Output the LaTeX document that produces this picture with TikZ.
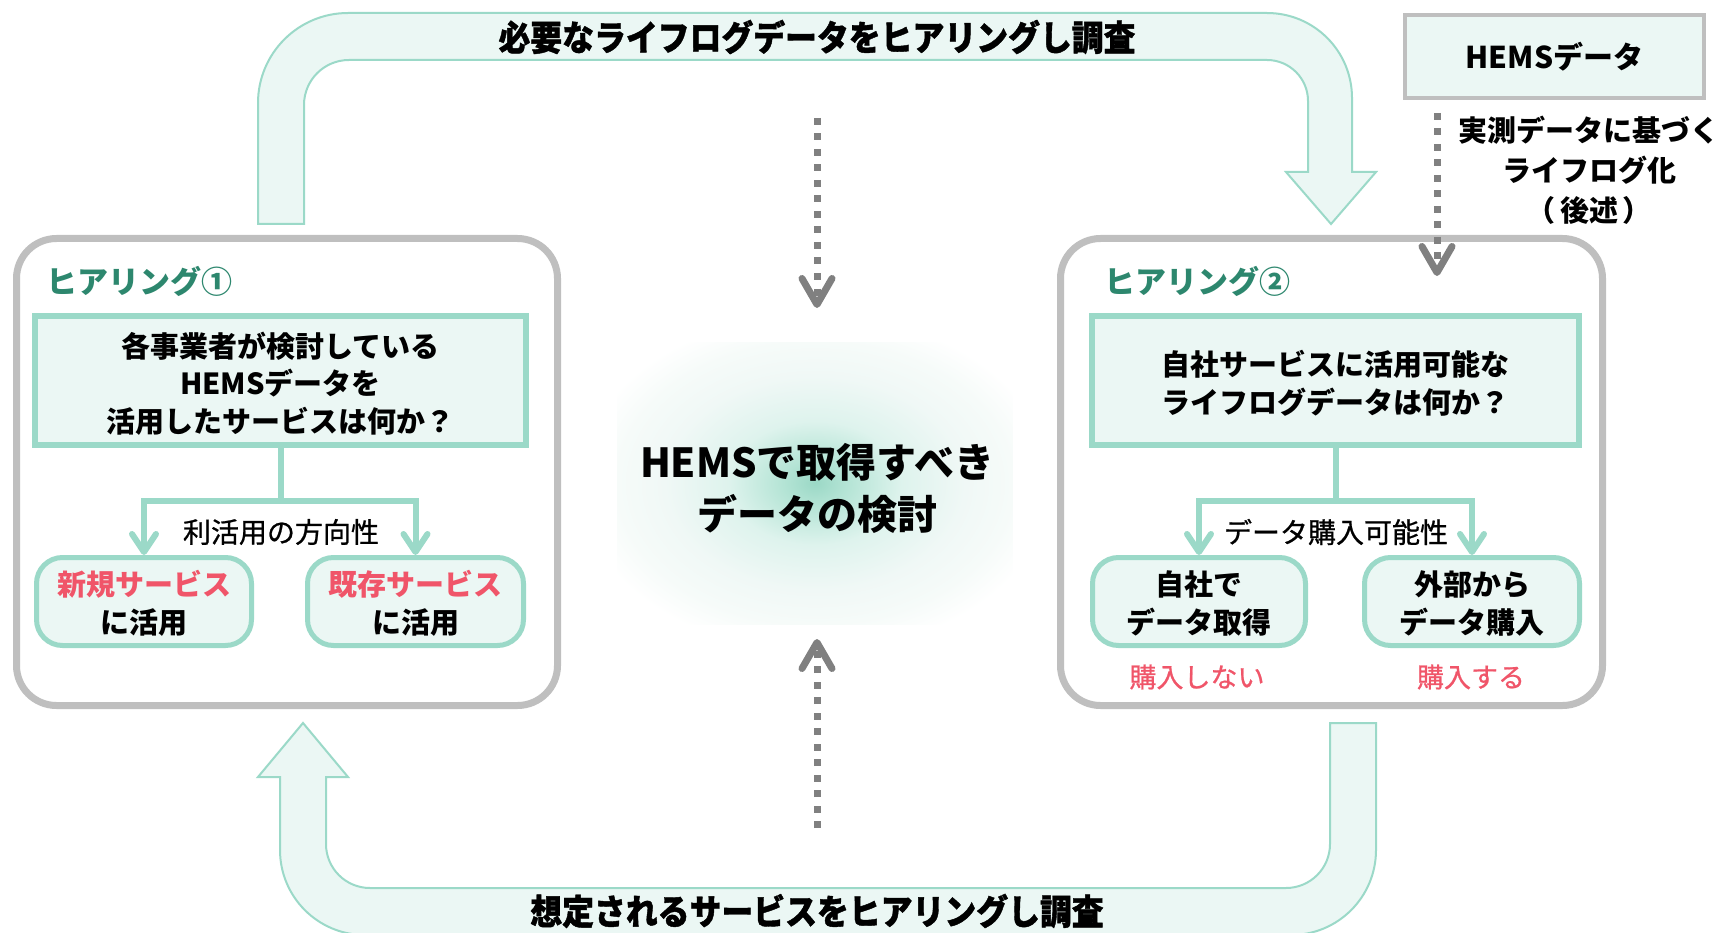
\documentclass[tikz,border=0pt]{standalone}
\usepackage{fontspec}
\setmainfont{Noto Sans CJK JP}
\newfontfamily\jpmed{Noto Sans CJK JP}[FakeBold=0.8]
\newfontfamily\jpheavy{Noto Sans CJK JP}[BoldFeatures={FakeBold=1.2}]
\usetikzlibrary{arrows.meta}
\definecolor{mint}{RGB}{155,217,200}
\definecolor{mintfill}{RGB}{235,247,244}
\definecolor{titleteal}{RGB}{45,135,110}
\definecolor{pinkred}{RGB}{240,85,105}
\definecolor{boxgray}{RGB}{191,191,191}
\definecolor{dgray}{RGB}{128,128,128}
\definecolor{glowA}{RGB}{155,216,198}
\definecolor{glowB}{RGB}{180,228,213}
\definecolor{glowC}{RGB}{222,243,237}
\definecolor{glowD}{RGB}{240,248,246}
\definecolor{glowE}{RGB}{246,251,249}
\pgfdeclareradialshading{glow}{\pgfpoint{0bp}{0bp}}{color(0bp)=(glowA); color(4bp)=(glowB); color(11bp)=(glowC); color(19bp)=(glowD); color(25bp)=(glowE); color(30bp)=(white); color(50bp)=(white)}
\newcommand\fsz[2]{\fontsize{#1}{#2}\selectfont}
\newcommand\lowered[2]{\raisebox{-#1}[\height][\depth]{#2}}
\begin{document}
\begin{tikzpicture}[x=1pt,y=-1pt,
  gbox/.style={draw=boxgray, line width=7pt, rounded corners=40pt, fill=white, inner sep=0pt},
  qbox/.style={draw=mint, line width=6pt, fill=mintfill, inner sep=0pt, align=center, font={\fsz{29pt}{37.5pt}\bfseries}},
  abox/.style={draw=mint, line width=5pt, fill=mintfill, rounded corners=26pt, inner sep=0pt, align=center, minimum height=88pt, font={\fsz{29pt}{38pt}\bfseries}},
  titletext/.style={text=titleteal, inner sep=0pt, anchor=west, font={\fsz{31pt}{31pt}\bfseries}},
  conn/.style={draw=mint, line width=6pt, -{Straight Barb[length=18pt,width=24pt,round]}},
  dots/.style={draw=dgray, line width=7pt, dash pattern=on 7pt off 8.5pt, -{Straight Barb[length=26pt,width=30pt,round]}},
  bigarrow/.style={draw=mint, line width=2pt, fill=mintfill},
  bandtext/.style={inner sep=0pt, font={\fsz{35pt}{35pt}\jpheavy\bfseries}},
  lbl/.style={inner sep=0pt, font={\fsz{28pt}{28pt}\jpmed}},
  redlbl/.style={inner sep=0pt, text=pinkred, font={\fsz{27pt}{27pt}\jpmed}}
]
\useasboundingbox (0,0) rectangle (1723,933);

% centre glow and text
\node[minimum width=395pt, minimum height=282pt, inner sep=0pt, shading=glow] (G) at (815,483) {};
\node[align=center, inner sep=0pt, font={\fsz{40pt}{52pt}\bfseries}] (GT) at (817,488) {HEMSで取得すべき\\データの検討};

% centre dotted arrows
\coordinate (ct) at (817,118);
\coordinate (cte) at (817,308);
\coordinate (cb) at (817,828);
\coordinate (cbe) at (817,639);
\draw[dots] (ct) -- (cte);
\draw[dots] (cb) -- (cbe);

% top band arrow
\path[bigarrow] (258,224) -- (258,103) .. controls (258,53.3) and (298.3,13) .. (348,13)
  -- (1267,13) .. controls (1314,13) and (1352,51) .. (1352,98)
  -- (1352,172) -- (1376,172) -- (1331,224) -- (1286,172) -- (1308,172)
  -- (1308,101) .. controls (1308,78.4) and (1289.6,60) .. (1267,60)
  -- (349,60) .. controls (324.1,60) and (304,80.1) .. (304,105)
  -- (304,224) -- cycle;
\node[bandtext] (TT) at (817,37) {\scalebox{0.91}[1]{必要なライフログデータをヒアリングし調査}};

% bottom band arrow
\path[bigarrow] (1330,723) -- (1376,723) -- (1376,850) .. controls (1376,897) and (1338,935) .. (1291,935)
  -- (365,935) .. controls (318,935) and (280,897) .. (280,850)
  -- (280,777) -- (258,777) -- (303,723) -- (348,777) -- (326,777)
  -- (326,844) .. controls (326,868.3) and (345.7,888) .. (370,888)
  -- (1286,888) .. controls (1310.3,888) and (1330,868.3) .. (1330,844) -- cycle;
\node[bandtext] (BT) at (817,911) {\scalebox{0.91}[1]{想定されるサービスをヒアリングし調査}};

% big boxes
\node[gbox, minimum width=541pt, minimum height=467pt] (B1) at (287,472) {};
\node[gbox, minimum width=542pt, minimum height=467pt] (B2) at (1331.5,472) {};
\node[titletext] (T1) at (46,281) {ヒアリング①};
\node[titletext] (T2) at (1104,281) {ヒアリング②};

% question boxes
\node[qbox, minimum width=491pt, minimum height=129pt] (Q1) at (280.5,380.5) {\lowered{3pt}{\parbox{480pt}{\centering 各事業者が検討している\\HEMSデータを\\活用したサービスは何か？}}};
\node[qbox, minimum width=487pt, minimum height=129pt] (Q2) at (1335.5,380.5) {\lowered{3pt}{\parbox{480pt}{\centering 自社サービスに活用可能な\\ライフログデータは何か？}}};

% answer boxes
\node[abox, minimum width=215pt] (N1) at (144,601.5) {\lowered{2pt}{\parbox{210pt}{\centering\textcolor{pinkred}{新規サービス}\\に活用}}};
\node[abox, minimum width=216pt] (N2) at (415.5,601.5) {\lowered{2pt}{\parbox{210pt}{\centering\textcolor{pinkred}{既存サービス}\\に活用}}};
\node[abox, minimum width=213pt] (N3) at (1199,601.5) {\lowered{2pt}{\parbox{208pt}{\centering 自社で\\データ取得}}};
\node[abox, minimum width=215pt] (N4) at (1472,601.5) {\lowered{2pt}{\parbox{210pt}{\centering 外部から\\データ購入}}};

% connectors
\draw[conn] (Q1.south) -- ++(0,53) -| (N1.north);
\draw[conn] (Q1.south) -- ++(0,53) -| (N2.north);
\draw[conn] (Q2.south) -- ++(0,53) -| (N3.north);
\draw[conn] (Q2.south) -- ++(0,53) -| (N4.north);

\node[lbl] (L1) at (281,532) {利活用の方向性};
\node[lbl] (L2) at (1336,532) {データ購入可能性};
\node[redlbl] (R1) at (1197,677) {購入しない};
\node[redlbl] (R2) at (1471,677) {購入する};

% HEMS data box
\node[draw=boxgray, line width=4pt, fill=mintfill, minimum width=299pt, minimum height=83pt, inner sep=0pt, font={\fsz{30pt}{30pt}\bfseries}] (H) at (1554.5,56.5) {HEMSデータ};
\node[align=center, inner sep=0pt, font={\fsz{29pt}{40pt}\bfseries}] (HN) at (1589,170) {実測データに基づく\\ライフログ化\\（\,後述\,）};
\coordinate (hs) at (1437,113);
\coordinate (he) at (1437,276);
\draw[dots] (hs) -- (he);
\end{tikzpicture}
\end{document}
